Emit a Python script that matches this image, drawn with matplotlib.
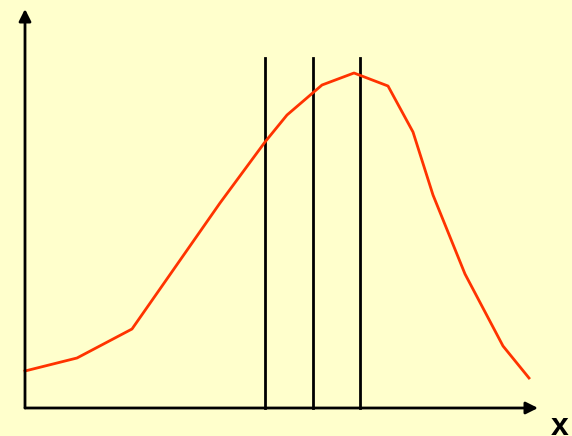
import matplotlib
matplotlib.use("Agg")
import matplotlib.pyplot as plt

# curve values, origin at the axis corner
curve_x = [0, 52, 107, 195, 240, 262, 297, 329, 363, 388, 408, 440, 478, 504]
curve_y = [37, 50, 79, 205, 266, 293, 323, 335, 322, 276, 213, 134, 62, 30]

# the three vertical markers
marker_x = [240, 288, 335]
marker_top = 350

bg = "#FFFFCC"

fig = plt.figure(figsize=(5.72, 4.36), dpi=100, facecolor=bg)
ax = fig.add_axes([0, 0, 1, 1])
ax.set_facecolor(bg)
ax.set_xlim(-25, 547)
ax.set_ylim(-28, 408)
ax.axis("off")

# axes with arrows
ax.annotate("", xy=(513, 0), xytext=(0, 0),
            arrowprops=dict(arrowstyle="-|>", color="black", lw=2,
                            mutation_scale=18, shrinkA=0, shrinkB=0))
ax.annotate("", xy=(0, 399), xytext=(0, 0),
            arrowprops=dict(arrowstyle="-|>", color="black", lw=2,
                            mutation_scale=18, shrinkA=0, shrinkB=0))

for mx in marker_x:
    ax.plot([mx, mx], [0, marker_top], color="black", lw=2)

ax.plot(curve_x, curve_y, color="#FF3300", lw=2)

ax.text(535, -19, "x", fontsize=23, fontweight="bold", family="Liberation Sans",
        ha="center", va="center")

fig.savefig("out.png", dpi=100, facecolor=bg)
